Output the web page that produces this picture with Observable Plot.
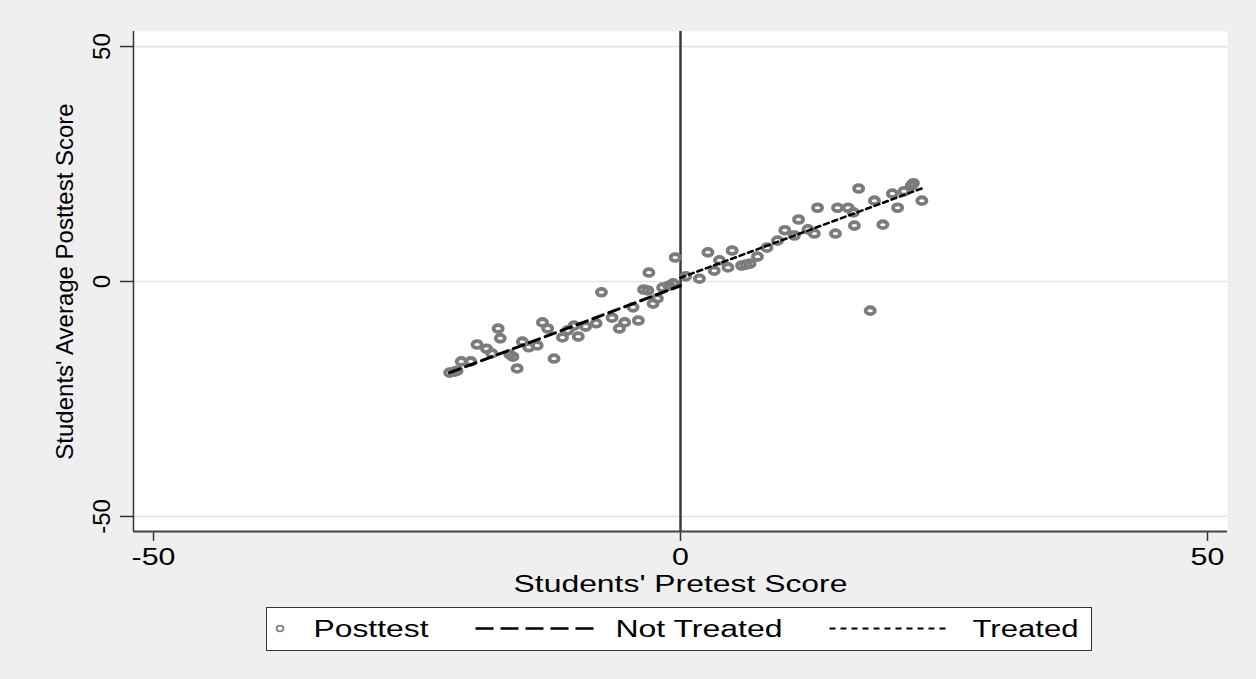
<!DOCTYPE html>
<html><head><meta charset="utf-8">
<script src="https://cdn.jsdelivr.net/npm/d3@7"></script>
<script src="https://cdn.jsdelivr.net/npm/@observablehq/plot@0.6"></script>
<style>
html,body{margin:0;padding:0;background:#efefef;}
#wrap{position:relative;width:1256px;height:679px;overflow:hidden;font-family:"Liberation Sans",Arial,sans-serif;}
#chart{position:absolute;left:0;top:0;}
#legend{position:absolute;left:266px;top:607px;width:826px;height:44px;box-sizing:border-box;border:1.5px solid #333;background:#fff;}
#legend svg{display:block;}
</style></head><body><div id="wrap"><div id="chart"></div><div id="legend"></div></div>
<script>
// ---- data ----
const pretest = [-21.9,-21.5,-21.2,-20.8,-19.9,-19.3,-18.4,-17.9,-17.3,-17.1,-16.2,-15.9,-15.5,-15.0,-14.4,-13.6,-13.1,-12.6,-12.0,-11.2,-10.7,-10.1,-9.7,-9.0,-8.0,-7.5,-6.5,-5.8,-5.3,-4.5,-4.0,-3.5,-3.1,-3.0,-2.6,-2.2,-1.7,-1.1,-0.5,-0.7,0.5,1.8,2.6,3.2,3.7,4.5,4.9,5.8,6.2,6.6,7.3,8.2,9.2,9.9,10.8,11.2,12.1,12.7,13.0,14.7,14.9,15.9,16.4,16.5,16.9,18.0,18.4,19.2,20.1,20.6,21.2,21.9,22.1,22.9];
const posttest = [-19.4,-19.2,-19.0,-17.0,-17.0,-13.4,-14.3,-15.3,-10.0,-12.1,-15.5,-16.0,-18.5,-12.8,-14.0,-13.6,-8.7,-10.0,-16.4,-11.9,-10.4,-9.4,-11.7,-9.6,-8.9,-2.3,-7.7,-10.0,-8.7,-5.5,-8.3,-1.7,-1.9,1.9,-4.7,-3.6,-1.3,-0.9,5.1,-0.4,1.1,0.6,6.2,2.3,4.5,3.0,6.6,3.4,3.6,3.8,5.3,7.2,8.7,10.9,9.8,13.2,11.1,10.2,15.7,10.2,15.7,15.7,14.7,11.9,19.8,-6.2,17.2,12.1,18.7,15.7,19.2,20.4,20.9,17.2];
const notTreatedX = [-21.9, 0];
const notTreatedY = [-19.4, -0.9];
const treatedX = [0, 23.0];
const treatedY = [0.8, 19.9];
const xTicks = [-50, 0, 50];
const yTicks = [-50, 0, 50];
const cutoff = [0];
const xDomain = [-51.9, 51.9];
const yDomain = [-53.2, 53.2];
const xTitle = "Students' Pretest Score";
const yTitle = "Students' Average Posttest Score";
const legendLabels = ["Posttest", "Not Treated", "Treated"];

// ---- tables ----
const points = pretest.map((x, i) => ({x, y: posttest[i]}));
const ntLine = notTreatedX.map((x, i) => ({x, y: notTreatedY[i]}));
const tLine = treatedX.map((x, i) => ({x, y: treatedY[i]}));

function ellipseSymbol(rx, ry) {
  const k = 0.5523;
  return {draw(ctx) {
    ctx.moveTo(rx, 0);
    ctx.bezierCurveTo(rx, k*ry, k*rx, ry, 0, ry);
    ctx.bezierCurveTo(-k*rx, ry, -rx, k*ry, -rx, 0);
    ctx.bezierCurveTo(-rx, -k*ry, -k*rx, -ry, 0, -ry);
    ctx.bezierCurveTo(k*rx, -ry, rx, -k*ry, rx, 0);
    ctx.closePath();
  }};
}

const chart = Plot.plot({
  width: 1256, height: 600,
  marginLeft: 133, marginRight: 29, marginTop: 31, marginBottom: 69,
  style: {background: "transparent", fontFamily: "'Liberation Sans', Arial, sans-serif", color: "#333", overflow: "visible"},
  x: {domain: xDomain, ticks: xTicks, tickSize: 10, tickFormat: () => "", label: null},
  y: {domain: yDomain, ticks: yTicks, tickSize: 13, tickFormat: () => "", label: null},
  marks: [
    Plot.frame({fill: "white", stroke: "none"}),
    Plot.ruleY(yTicks, {stroke: "#e3e3e3", strokeWidth: 1.7}),
    Plot.ruleX(cutoff, {stroke: "#3a3a3a", strokeWidth: 2.5}),
    Plot.dot(points, {x: "x", y: "y", symbol: ellipseSymbol(4.6, 3.4), stroke: "#7c7c7c", strokeWidth: 3.8, fill: "none"}),
    Plot.line(ntLine, {x: "x", y: "y", stroke: "black", strokeWidth: 3, strokeDasharray: "11,6"}),
    Plot.line(tLine, {x: "x", y: "y", stroke: "black", strokeWidth: 2.6, strokeDasharray: "5,4"}),
    Plot.ruleX([xDomain[0]], {stroke: "#333", strokeWidth: 1.5}),
    Plot.ruleY([yDomain[0]], {stroke: "#444", strokeWidth: 2}),
    Plot.text(yTicks, {y: d => d, text: d => String(d), frameAnchor: "left", dx: -31, rotate: -90, fontSize: 24, fill: "black", textAnchor: "middle", lineAnchor: "middle"}),
    Plot.text([yTitle], {frameAnchor: "left", dx: -68, rotate: -90, fontSize: 24, fill: "black", textAnchor: "middle", lineAnchor: "middle"}),
    Plot.text(xTicks, {x: d => d, text: d => String(d), frameAnchor: "bottom", dy: 33, fontSize: 23, fill: "black", textAnchor: "middle", lineAnchor: "bottom"}),
    Plot.text([xTitle], {frameAnchor: "bottom", dy: 60, fontSize: 23.5, fill: "black", textAnchor: "middle", lineAnchor: "bottom"})
  ]
});
document.getElementById("chart").appendChild(chart);

// horizontal stretch of the non-rotated texts (the reference is widened horizontally)
chart.querySelectorAll("text").forEach(t => {
  const tr = t.getAttribute("transform") || "";
  if (tr.includes("rotate") || !t.textContent) return;
  let f = 1.32;
  if (t.textContent === xTitle) f = 334 / t.getComputedTextLength();
  t.setAttribute("transform", tr + ` scale(${f},1)`);
});
chart.querySelectorAll("[aria-label='x-axis tick'] path, [aria-label='y-axis tick'] path, g[aria-label='x-axis'] line, g[aria-label='y-axis'] line").forEach(p => p.setAttribute("stroke-width", 1.5));

// ---- legend ----
const L = d3.select("#legend").append("svg").attr("width", 823).attr("height", 41)
  .style("font-family", "'Liberation Sans', Arial, sans-serif");
L.append("path").attr("transform", "translate(13,20.5)")
  .attr("d", (() => { const p = d3.path(); ellipseSymbol(3.4, 2.8).draw(p); return p.toString(); })())
  .attr("fill", "none").attr("stroke", "#808080").attr("stroke-width", 1.8);
const legendText = [[46.5, 115], [348.5, 167], [705.5, 106]];
legendText.forEach(([x, w], i) => {
  L.append("text").attr("x", x).attr("y", 28.5).attr("font-size", 23).attr("fill", "black")
    .attr("textLength", w).attr("lengthAdjust", "spacingAndGlyphs").text(legendLabels[i]);
});
L.append("line").attr("x1", 208.5).attr("x2", 330.5).attr("y1", 20.5).attr("y2", 20.5)
  .attr("stroke", "black").attr("stroke-width", 2.6).attr("stroke-dasharray", "18,7");
L.append("line").attr("x1", 562.5).attr("x2", 678.5).attr("y1", 20.5).attr("y2", 20.5)
  .attr("stroke", "black").attr("stroke-width", 2).attr("stroke-dasharray", "6,5");
</script>
</body></html>
